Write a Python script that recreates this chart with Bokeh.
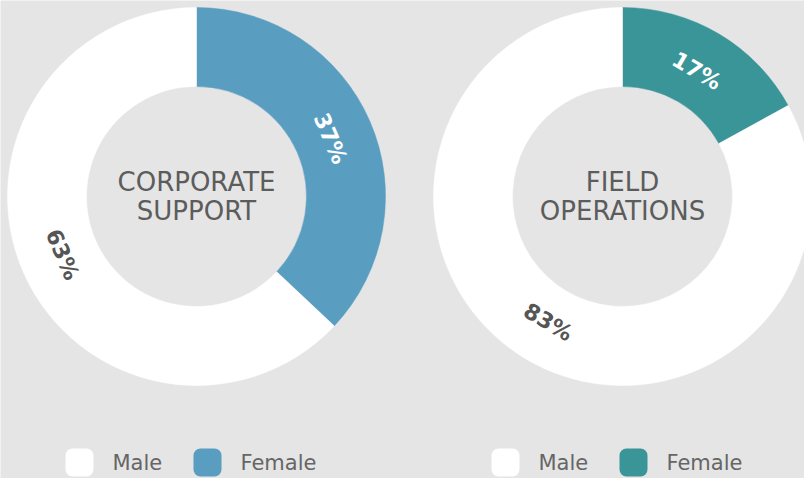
import math
from bokeh.plotting import figure
from bokeh.models import Range1d
from bokeh.core.properties import value
from bokeh.embed import file_html
from bokeh.resources import INLINE

# ---- data ----
groups = ["CORPORATE\nSUPPORT", "FIELD\nOPERATIONS"]
categories = ["Female", "Male"]
corporate_pct = [37, 63]
field_pct = [17, 83]
female_colors = ["#599ec1", "#3a9599"]
male_color = "#ffffff"

W, H = 804, 478
BG = "#e5e5e5"
TXT = "#5c5c5c"
FONT = "DejaVu Sans"

p = figure(width=W, height=H, x_range=Range1d(0, W), y_range=Range1d(0, H),
           output_backend="svg", toolbar_location=None, min_border=0,
           background_fill_color=BG, border_fill_color=BG, outline_line_color=None)
p.axis.visible = False
p.grid.visible = False

centers = [(196, H - 196), (622, H - 196)]
r_in, r_out = 110, 189
r_lab = 146

for (cx, cy), pct, fcol, name in zip(centers, [corporate_pct, field_pct], female_colors, groups):
    total = sum(pct)
    cum = 0.0
    cols = [fcol, male_color]
    for v, col, cat in zip(pct, cols, categories):
        f0 = cum / total
        f1 = (cum + v) / total
        cum += v
        start = math.pi / 2 - f1 * 2 * math.pi
        end = math.pi / 2 - f0 * 2 * math.pi
        p.annular_wedge(x=[cx], y=[cy], inner_radius=r_in, outer_radius=r_out,
                        start_angle=start, end_angle=end, fill_color=col,
                        line_color=col, line_width=0.5)
        mid = (f0 + f1) / 2 * 360.0  # clockwise from top, degrees
        rad = math.radians(mid)
        lx = cx + r_lab * math.sin(rad)
        ly = cy + r_lab * math.cos(rad)
        rot = mid % 180.0
        p.text(x=[lx], y=[ly], text=[f"{v}%"], angle=-math.radians(rot),
               text_align="center", text_baseline="middle",
               text_font=value(FONT), text_font_style="bold", text_font_size="22px",
               text_color="#ffffff" if col != male_color else "#555555")
    lines = name.split("\n")
    for i, t in enumerate(lines):
        p.text(x=[cx], y=[cy + 15 - 29 * i], text=[t], text_align="center",
               text_baseline="middle", text_font=value(FONT), text_font_size="26px",
               text_color=TXT)

# legends
leg_y = H - 462
for (cx, cy), fcol in zip(centers, female_colors):
    items = [("Male", male_color), ("Female", fcol)]
    x0 = cx - 117
    for lab, col in items:
        p.rect(x=[x0], y=[leg_y], width=28, height=28, fill_color=col,
               line_color=None, border_radius=7)
        p.text(x=[x0 + 33], y=[leg_y], text=[lab], text_align="left",
               text_baseline="middle", text_font=value(FONT), text_font_size="21px",
               text_color="#666666")
        x0 += 128

open("out.html", "w").write(file_html(p, INLINE))
